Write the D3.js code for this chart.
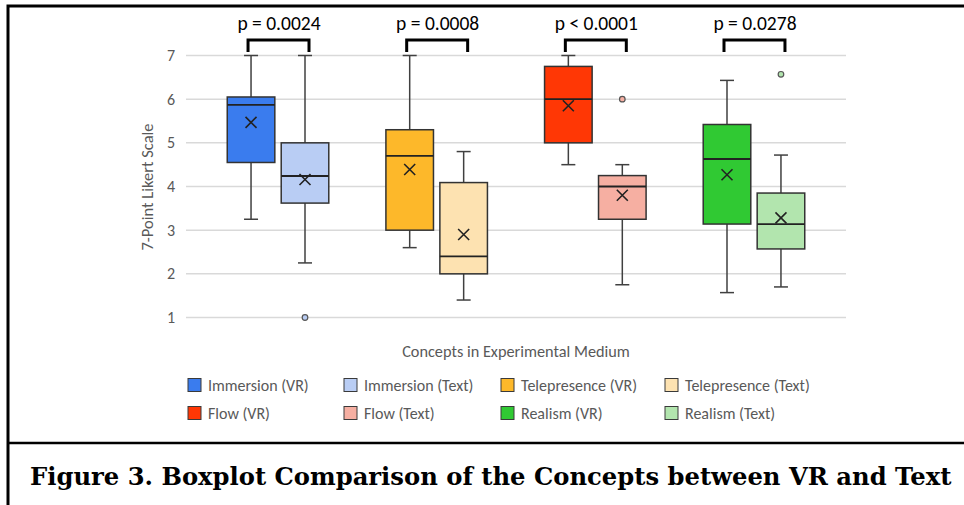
<!DOCTYPE html>
<html>
<head>
<meta charset="utf-8">
<script src="https://cdn.jsdelivr.net/npm/d3@7"></script>
<style>
  body { margin: 0; background: #fff; }
  svg { display: block; }
</style>
</head>
<body>
<script>
// Boxplot comparison of concepts, VR vs Text

const concepts = ["Immersion", "Telepresence", "Flow", "Realism"];
const media = ["VR", "Text"];
const seriesNames = ["Immersion (VR)", "Immersion (Text)", "Telepresence (VR)", "Telepresence (Text)",
                     "Flow (VR)", "Flow (Text)", "Realism (VR)", "Realism (Text)"];

// per series, same order as seriesNames
const whiskerLow  = [3.25, 2.25, 2.6, 1.4, 4.5, 1.75, 1.57, 1.7];
const q1          = [4.55, 3.62, 3.0, 2.0, 5.0, 3.25, 3.14, 2.57];
const medians     = [5.87, 4.24, 4.7, 2.4, 6.0, 4.0, 4.63, 3.14];
const q3          = [6.05, 5.0, 5.3, 4.09, 6.75, 4.25, 5.42, 3.85];
const whiskerHigh = [7.0, 7.0, 7.0, 4.8, 7.0, 4.5, 6.43, 4.72];
const means       = [5.47, 4.16, 4.39, 2.9, 5.85, 3.8, 4.27, 3.28];

const outliers = [
  { series: "Immersion (Text)", value: 1.0 },
  { series: "Flow (Text)", value: 6.0 },
  { series: "Realism (Text)", value: 6.57 }
];

const pValues = ["p = 0.0024", "p = 0.0008", "p < 0.0001", "p = 0.0278"];
const yTicks = [1, 2, 3, 4, 5, 6, 7];

const fills = ["#3a7cee", "#b9cdf4", "#fdb82a", "#fde2b1", "#ff3705", "#f6afa2", "#30c933", "#b2e5ae"];

const width = 964, height = 505;
const sans = "Carlito, Calibri, 'Liberation Sans Narrow', 'Open Sans', sans-serif";

const svg = d3.select("body").append("svg")
    .attr("width", width)
    .attr("height", height);

// frame of the figure
svg.append("path")
    .attr("d", "M8,505 V6 H964")
    .attr("fill", "none")
    .attr("stroke", "#000")
    .attr("stroke-width", 3);
svg.append("line")
    .attr("x1", 8).attr("x2", 964)
    .attr("y1", 443).attr("y2", 443)
    .attr("stroke", "#000")
    .attr("stroke-width", 2.5);

// scales
const x = d3.scaleBand()
    .domain(concepts)
    .range([186, 846])
    .paddingOuter(0.08);

const xSub = d3.scaleBand()
    .domain(media)
    .range([0, x.bandwidth()])
    .paddingInner(0.1)
    .paddingOuter(0.52);

const y = d3.scaleLinear()
    .domain([1, 7])
    .range([317.5, 55.5]);

const rows = seriesNames.map((name, i) => ({
  name: name,
  concept: concepts[Math.floor(i / 2)],
  medium: media[i % 2],
  lo: whiskerLow[i], q1: q1[i], med: medians[i], q3: q3[i], hi: whiskerHigh[i],
  mean: means[i],
  fill: fills[i]
}));
const cx = d => x(d.concept) + xSub(d.medium) + xSub.bandwidth() / 2;
const bw = xSub.bandwidth() - 1;

// grid
svg.append("g")
    .selectAll("line")
    .data(yTicks)
    .join("line")
    .attr("x1", 186).attr("x2", 846)
    .attr("y1", d => y(d)).attr("y2", d => y(d))
    .attr("stroke", "#d9d9d9")
    .attr("stroke-width", 1.5);

// y axis labels
const yAxis = d3.axisLeft(y).tickValues(yTicks).tickSize(0).tickPadding(0).tickFormat(d3.format("d"));
svg.append("g")
    .attr("transform", "translate(175,0)")
    .call(yAxis)
    .call(g => g.select(".domain").remove())
    .call(g => g.selectAll("text")
        .attr("fill", "#595959")
        .attr("font-family", sans)
        .attr("font-size", 16));

svg.append("text")
    .attr("transform", "translate(147,187) rotate(-90)")
    .attr("text-anchor", "middle")
    .attr("dy", "0.35em")
    .attr("fill", "#595959")
    .attr("font-family", sans)
    .attr("font-size", 16.5)
    .text("7-Point Likert Scale");

// boxes
const boxes = svg.append("g").selectAll("g")
    .data(rows)
    .join("g");

boxes.append("line")
    .attr("x1", cx).attr("x2", cx)
    .attr("y1", d => y(d.hi)).attr("y2", d => y(d.lo))
    .attr("stroke", "#404040")
    .attr("stroke-width", 1.5);

boxes.selectAll(".cap")
    .data(d => [d.lo, d.hi].map(v => ({ v: v, c: cx(d) })))
    .join("line")
    .attr("class", "cap")
    .attr("x1", d => d.c - 7).attr("x2", d => d.c + 7)
    .attr("y1", d => y(d.v)).attr("y2", d => y(d.v))
    .attr("stroke", "#404040")
    .attr("stroke-width", 1.5);

boxes.append("rect")
    .attr("x", d => cx(d) - bw / 2)
    .attr("width", bw)
    .attr("y", d => y(d.q3))
    .attr("height", d => y(d.q1) - y(d.q3))
    .attr("fill", d => d.fill)
    .attr("stroke", "#333")
    .attr("stroke-width", 1.5);

boxes.append("line")
    .attr("x1", d => cx(d) - bw / 2).attr("x2", d => cx(d) + bw / 2)
    .attr("y1", d => y(d.med)).attr("y2", d => y(d.med))
    .attr("stroke", "#222")
    .attr("stroke-width", 1.8);

// mean markers
boxes.append("path")
    .attr("d", d => {
      const px = cx(d), py = y(d.mean), s = 5.5;
      return `M${px - s},${py - s}L${px + s},${py + s}M${px - s},${py + s}L${px + s},${py - s}`;
    })
    .attr("stroke", "#222")
    .attr("stroke-width", 1.6);

// outliers
svg.append("g").selectAll("circle")
    .data(outliers)
    .join("circle")
    .attr("cx", d => cx(rows.find(r => r.name === d.series)))
    .attr("cy", d => y(d.value))
    .attr("r", 2.8)
    .attr("fill", d => rows.find(r => r.name === d.series).fill)
    .attr("stroke", "#555")
    .attr("stroke-width", 1.2);

// significance brackets
const br = svg.append("g").selectAll("g")
    .data(concepts)
    .join("g");

br.append("path")
    .attr("d", c => {
      const l = x(c) + xSub("VR") + xSub.bandwidth() / 2 - 3;
      const r = x(c) + xSub("Text") + xSub.bandwidth() / 2 + 4;
      return `M${l},52V40H${r}V52`;
    })
    .attr("fill", "none")
    .attr("stroke", "#000")
    .attr("stroke-width", 3);

br.append("text")
    .attr("x", c => x(c) + x.bandwidth() / 2 + 1)
    .attr("y", 30)
    .attr("text-anchor", "middle")
    .attr("font-family", sans)
    .attr("font-size", 19.5)
    .attr("fill", "#000")
    .text((c, i) => pValues[i]);

// x axis title
svg.append("text")
    .attr("x", 516)
    .attr("y", 357)
    .attr("text-anchor", "middle")
    .attr("fill", "#595959")
    .attr("font-family", sans)
    .attr("font-size", 16.3)
    .text("Concepts in Experimental Medium");

// legend
const legendX = [188, 344, 501, 665];
const legendY = [385, 413];
const leg = svg.append("g").selectAll("g")
    .data(rows)
    .join("g")
    .attr("transform", (d, i) => `translate(${legendX[i % 4]},${legendY[Math.floor(i / 4)]})`);

leg.append("rect")
    .attr("x", 0).attr("y", -6.5)
    .attr("width", 13).attr("height", 13)
    .attr("fill", d => d.fill)
    .attr("stroke", "#3a3a3a")
    .attr("stroke-width", 1);

leg.append("text")
    .attr("x", 20)
    .attr("dy", "0.35em")
    .attr("fill", "#595959")
    .attr("font-family", sans)
    .attr("font-size", 16)
    .text(d => d.name);

// caption
const cap = svg.append("text")
    .attr("x", 30)
    .attr("y", 485)
    .attr("font-family", "Georgia, 'DejaVu Serif', serif")
    .attr("font-weight", "bold")
    .attr("font-size", 22)
    .attr("fill", "#000")
    .text("Figure 3. Boxplot Comparison of the Concepts between VR and Text");

// fit caption to its width in the figure
const capLen = cap.node().getComputedTextLength();
cap.attr("font-size", 22 * 922 / capLen);
</script>
</body>
</html>
